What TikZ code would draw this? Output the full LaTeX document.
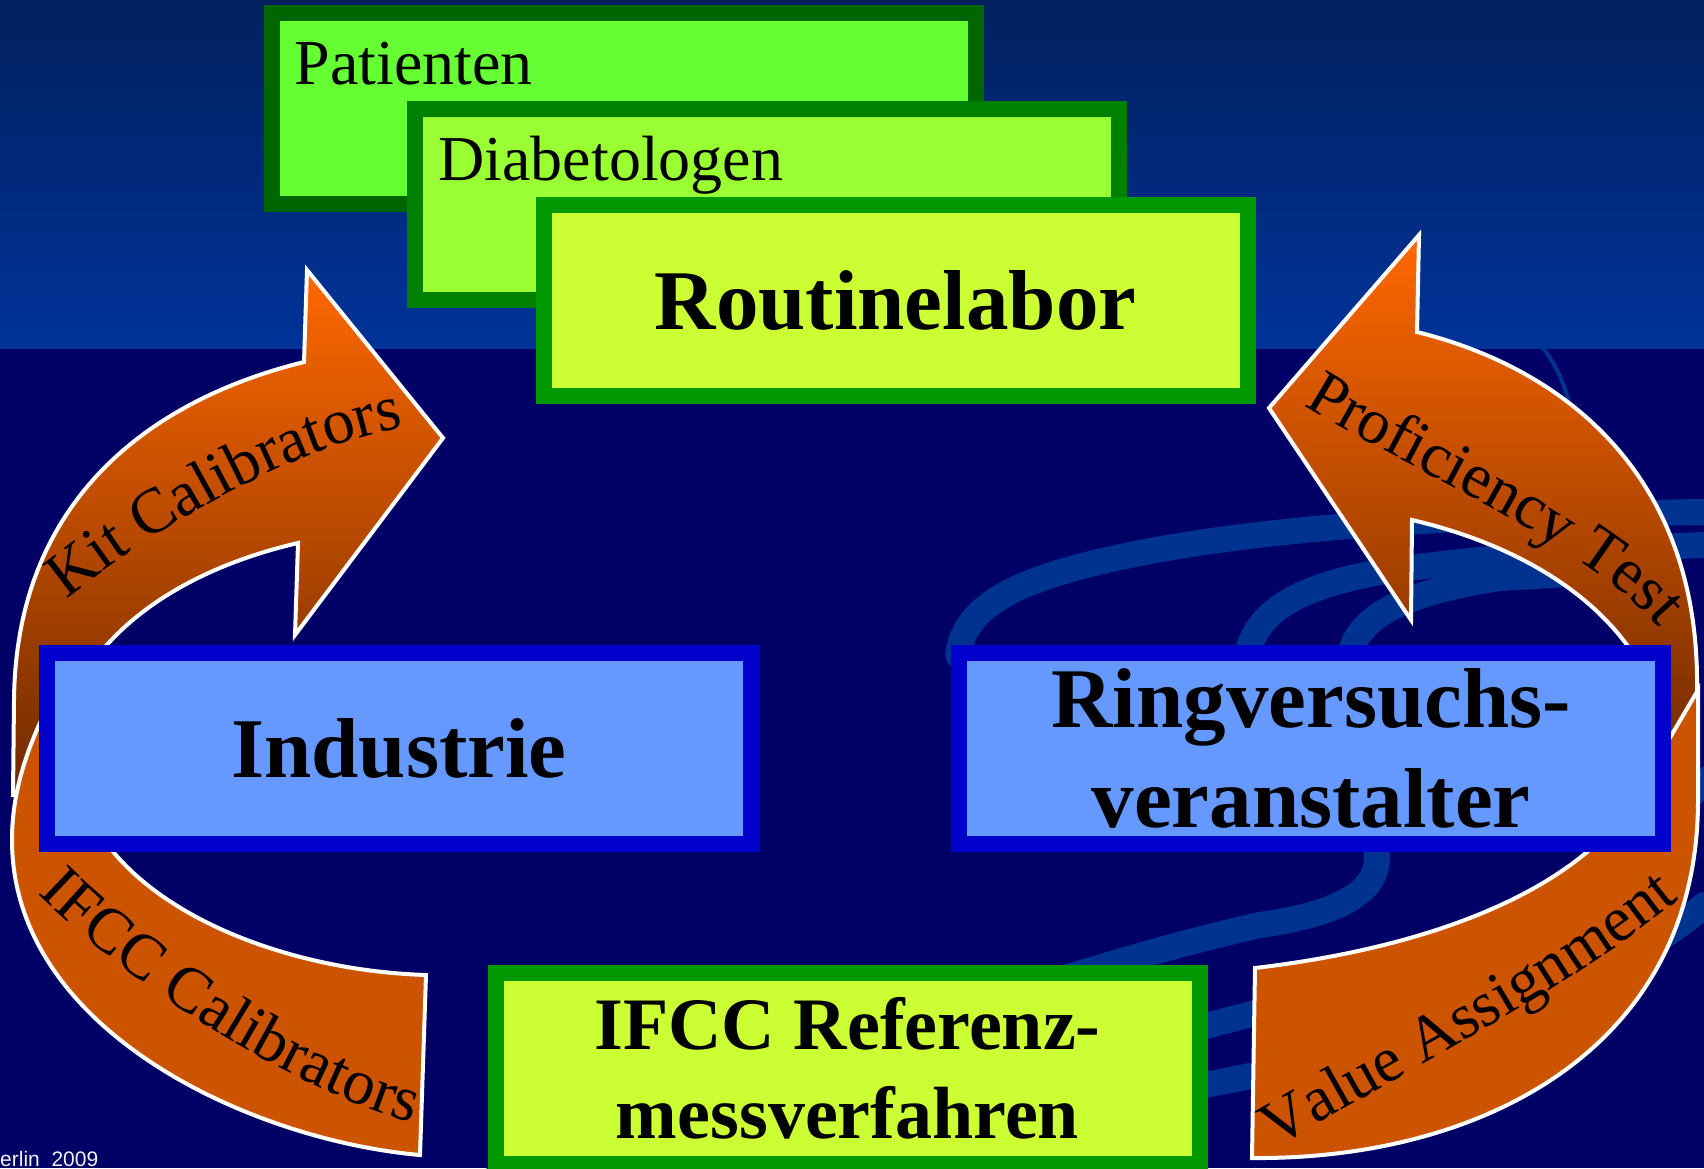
\documentclass[tikz,border=0pt]{standalone}
\usepackage{fontspec}
\setmainfont{Liberation Serif}
\newfontfamily\footfont{Liberation Sans}
\usepackage{tikz}
\usetikzlibrary{decorations.text}
\definecolor{bgtop}{RGB}{2,32,94}
\definecolor{bgmid}{RGB}{0,51,153}
\definecolor{navybg}{RGB}{0,0,102}
\definecolor{swooshblue}{RGB}{0,50,143}
\definecolor{patfill}{RGB}{102,255,51}
\definecolor{patline}{RGB}{0,102,0}
\definecolor{diafill}{RGB}{153,255,51}
\definecolor{dialine}{RGB}{0,128,0}
\definecolor{labfill}{RGB}{204,255,51}
\definecolor{labline}{RGB}{0,153,0}
\definecolor{bluefill}{RGB}{102,153,255}
\definecolor{blueline}{RGB}{0,0,204}
\definecolor{arrowtop}{RGB}{255,104,0}
\definecolor{arrowbot}{RGB}{112,42,0}
\definecolor{bandorange}{RGB}{204,84,0}
\newcommand{\lblsize}{\fontsize{64}{64}\selectfont}

\begin{document}
\begin{tikzpicture}[x=1pt,y=-1pt,
  box/.style={line width=16pt,minimum width=704pt,minimum height=191pt,inner sep=0pt,text=black},
  bluebox/.style={box,draw=blueline,fill=bluefill,align=center,font=\fontsize{85}{100}\selectfont\bfseries},
  swoosh/.style={draw=swooshblue,line width=26pt,line cap=round},
  bendarrow/.style={top color=arrowtop,bottom color=arrowbot,draw=white,line width=4pt},
  band/.style={fill=bandorange,draw=white,line width=4pt},
  bandtext/.style={decorate,decoration={text along path,text align=center,text={|\lblsize|#1}}}]
\useasboundingbox (0,0) rectangle (1704,1168);
\fill[navybg] (0,0) rectangle (1704,1168);
\shade[top color=bgtop,bottom color=bgmid] (0,0) rectangle (1704,348);

\draw[swoosh] (958,655) .. controls (965,600) and (1030,575) .. (1140,553) .. controls (1300,522) and (1500,515) .. (1704,512);
\draw[swoosh] (1249,648) .. controls (1262,605) and (1310,585) .. (1380,572) .. controls (1500,555) and (1620,548) .. (1704,545);
\draw[swoosh] (1352,648) .. controls (1365,610) and (1420,590) .. (1500,578) -- (1600,572);
\draw[swoosh] (1376,848) .. controls (1385,895) and (1330,915) .. (1260,925) .. controls (1100,960) and (800,1060) .. (480,1185);
\draw[swoosh] (1150,1040) .. controls (1350,990) and (1580,930) .. (1704,780);
\draw[swoosh] (1150,1095) .. controls (1350,1060) and (1600,1000) .. (1704,905);
\draw[swooshblue,line width=4pt] (1543,348) .. controls (1560,370) and (1572,400) .. (1572,430);

\path[bendarrow] (307,270) -- (443,438) -- (295,635) -- (298,543) .. controls (190,568) and (95,625) .. (62,720) -- (60,795) -- (13,795) -- (14,700) .. controls (16,500) and (150,400) .. (304,362) -- cycle;
\path[bandtext={Kit Calibrators}] (45,617) -- (68,598) .. controls (140,540) and (280,450) .. (402,428) -- (431,423);

\path[band] (426,975) -- (420,1155) .. controls (250,1140) and (12,1030) .. (12,840) .. controls (12,800) and (22,760) .. (45,712) -- (95,700) -- (80,790) .. controls (110,900) and (270,970) .. (426,975) -- cycle;
\path[bandtext={IFCC Calibrators}] (16,872) -- (37,893) .. controls (120,975) and (270,1080) .. (412,1123) -- (441,1132);

\path[bendarrow] (1419,235) -- (1417,332) .. controls (1570,370) and (1700,480) .. (1697,690) -- (1698,775) -- (1648,775) -- (1648,680) .. controls (1610,600) and (1520,545) .. (1412,520) -- (1411,620) -- (1269,408) -- cycle;
\path[bandtext={Proficiency Test}] (1279,389) -- (1304,405) .. controls (1390,460) and (1590,545) .. (1658,627) -- (1678,650);

\path[band] (1698,690) -- (1648,775) .. controls (1600,880) and (1450,945) .. (1255,968) -- (1252,1158) .. controls (1480,1160) and (1698,1050) .. (1698,800) -- cycle;
\path[bandtext={Value Assignment}] (1246,1165) -- (1272,1150) .. controls (1390,1080) and (1570,990) .. (1682,897) -- (1705,878);

\node[box,draw=patline,fill=patfill] (pat) at (623.5,108.5) {};
\node[anchor=base west,font=\lblsize] (patT) at (291,84) {Patienten};
\node[box,draw=dialine,fill=diafill] (dia) at (767,204.5) {};
\node[anchor=base west,font=\lblsize] (diaT) at (435,180) {Diabetologen};
\node[box,draw=labline,fill=labfill,font=\fontsize{85}{100}\selectfont\bfseries] (lab) at (895.5,300.5) {Routinelabor};
\node[bluebox] (ind) at (399,748.5) {Industrie};
\node[bluebox] (ring) at (1311,748.5) {Ringversuchs-\\veranstalter};
\node[box,draw=labline,fill=labfill,align=center,font=\fontsize{74}{89}\selectfont\bfseries] (ref) at (847.5,1068.5) {IFCC Referenz-\\messverfahren};
\node[anchor=base west,inner sep=0pt,text=white!90!gray,font=\footfont\fontsize{21}{21}\selectfont] (yr) at (0,1166) {erlin\ \ 2009};
\end{tikzpicture}
\end{document}
